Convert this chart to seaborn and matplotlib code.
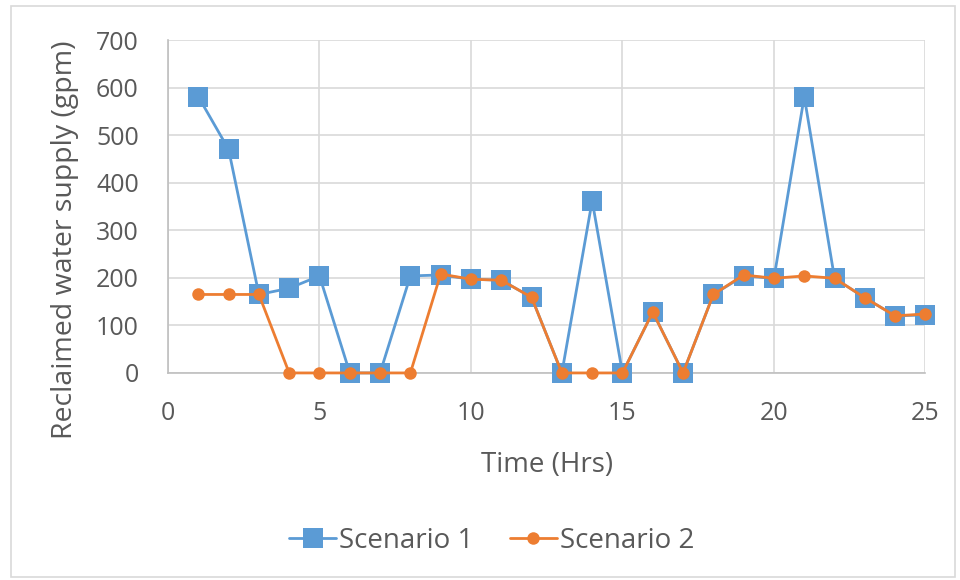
import matplotlib
matplotlib.use("Agg")
import matplotlib.pyplot as plt
from matplotlib.patches import Rectangle
import seaborn as sns
import pandas as pd

hours = list(range(1, 26))
scenario_1 = [581, 470, 165, 178, 204, 0, 0, 204, 206, 197, 195, 159, 0, 362,
              0, 128, 0, 165, 204, 199, 581, 199, 158, 120, 122]
scenario_2 = [165, 165, 165, 0, 0, 0, 0, 0, 208, 197, 195, 159, 0, 0,
              0, 128, 0, 165, 206, 199, 204, 199, 158, 120, 124]
series_names = ["Scenario 1", "Scenario 2"]
x_ticks = [0, 5, 10, 15, 20, 25]
y_ticks = [0, 100, 200, 300, 400, 500, 600, 700]

df = pd.DataFrame({
    "Time (Hrs)": hours * 2,
    "Supply": scenario_1 + scenario_2,
    "Series": [series_names[0]] * len(hours) + [series_names[1]] * len(hours),
})

sns.set_theme(style="white")
plt.rcParams["font.family"] = ["Open Sans", "DejaVu Sans"]
text_color = "#595959"
grid_color = "#d9d9d9"
tick_fs = 18
label_fs = 20

fig = plt.figure(figsize=(9.6, 5.8), dpi=100)
ax = fig.add_axes([0.175, 0.357, 0.789, 0.574])

palette = {"Scenario 1": "#5B9BD5", "Scenario 2": "#ED7D31"}
markers = {"Scenario 1": "s", "Scenario 2": "o"}

for name in series_names:
    sub = df[df["Series"] == name]
    sns.lineplot(
        data=sub, x="Time (Hrs)", y="Supply", ax=ax,
        color=palette[name], marker=markers[name],
        markersize=15 if name == "Scenario 1" else 9,
        markeredgewidth=0, linewidth=2.0, label=name, clip_on=False,
        zorder=3 if name == "Scenario 1" else 4,
    )

ax.set_xlim(0, 25)
ax.set_ylim(0, 700)
ax.set_xticks(x_ticks)
ax.set_yticks(y_ticks)
ax.grid(True, color=grid_color, linewidth=1.2)
ax.set_axisbelow(True)
for side in ["top", "right"]:
    ax.spines[side].set_visible(False)
for side in ["left", "bottom"]:
    ax.spines[side].set_color("#bfbfbf")
    ax.spines[side].set_linewidth(1.2)
ax.tick_params(axis="both", colors=text_color, labelsize=tick_fs, length=0)
ax.tick_params(axis="x", pad=20)
ax.tick_params(axis="y", pad=21)
ax.set_xlabel("Time (Hrs)", fontsize=label_fs, color=text_color, labelpad=18)
ax.set_ylabel("Reclaimed water supply (gpm)", fontsize=20.5, color=text_color)
ax.yaxis.set_label_coords(-0.118, 0.40)

handles, labels = ax.get_legend_handles_labels()
ax.legend_.remove()
fig.legend(handles, labels, loc="center", bbox_to_anchor=(0.512, 0.067), ncol=2,
           frameon=False, fontsize=label_fs, labelcolor=text_color, handlelength=1.7,
           columnspacing=1.3, handletextpad=0.1)

fig.patches.append(Rectangle((0.011, 0.005), 0.984, 0.985, transform=fig.transFigure,
                             fill=False, edgecolor="#d9d9d9", linewidth=1.2))

fig.savefig("out.png", dpi=100, facecolor="white")
